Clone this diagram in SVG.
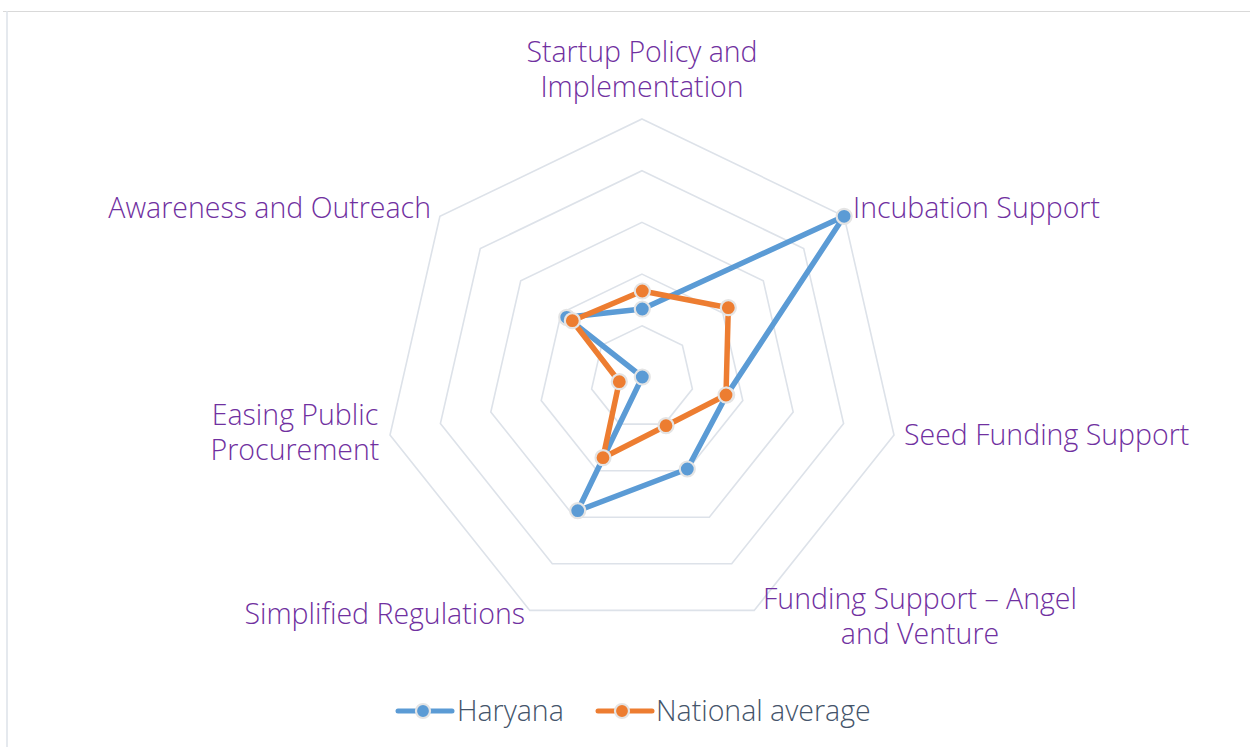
<svg xmlns="http://www.w3.org/2000/svg" width="1250" height="747" viewBox="0 0 1250 747">
  <style>
    .grid { fill: none; stroke: #dde2e9; stroke-width: 1.6; }
    .lbl { font-family: "Open Sans", "Liberation Sans", sans-serif; font-weight: 300; font-size: 28.5px; fill: #7030a0; }
    .leg { font-family: "Open Sans", "Liberation Sans", sans-serif; font-weight: 300; font-size: 28.5px; fill: #44546a; }
    .ser-h { fill: none; stroke: #5b9bd5; stroke-width: 5.5; stroke-linejoin: round; }
    .ser-n { fill: none; stroke: #ed7d31; stroke-width: 5.5; stroke-linejoin: round; }
    .mk-h { fill: #5b9bd5; stroke: #e4e4e4; stroke-width: 2.2; }
    .mk-n { fill: #ed7d31; stroke: #e4e4e4; stroke-width: 2.2; }
  </style>
  <rect x="0" y="0" width="1250" height="747" fill="#ffffff"/>
  <g id="frame">
    <line x1="3" y1="11.5" x2="1250" y2="11.5" stroke="#d9d9d9" stroke-width="1.2"/>
    <line x1="7" y1="11" x2="7" y2="747" stroke="#dfe4ea" stroke-width="1.6"/>
  </g>
  <g id="grid">
    <polygon class="grid" points="642,119 844.1,216.3 894,435 754.2,610.4 529.8,610.4 390,435 439.9,216.3"/>
    <polygon class="grid" points="642,170.7 803.7,248.6 843.6,423.5 731.7,563.8 552.3,563.8 440.4,423.5 480.3,248.6"/>
    <polygon class="grid" points="642,222.4 763.3,280.8 793.2,412 709.3,517.2 574.7,517.2 490.8,412 520.7,280.8"/>
    <polygon class="grid" points="642,274.1 722.8,313 742.8,400.5 686.9,470.7 597.1,470.7 541.2,400.5 561.2,313"/>
    <polygon class="grid" points="642,325.8 682.4,345.3 692.4,389 664.4,424.1 619.6,424.1 591.6,389 601.6,345.3"/>
  </g>
  <g id="axis-labels">
    <g id="label-startup"><text class="lbl" x="642" y="62" text-anchor="middle">Startup Policy and</text><text class="lbl" x="642" y="97" text-anchor="middle">Implementation</text></g>
    <g id="label-incubation"><text class="lbl" x="853" y="218">Incubation Support</text></g>
    <g id="label-seed"><text class="lbl" x="904" y="445">Seed Funding Support</text></g>
    <g id="label-angel"><text class="lbl" x="920" y="609" text-anchor="middle">Funding Support – Angel</text><text class="lbl" x="920" y="644" text-anchor="middle">and Venture</text></g>
    <g id="label-regulations"><text class="lbl" x="525" y="624" text-anchor="end">Simplified Regulations</text></g>
    <g id="label-procurement"><text class="lbl" x="295" y="425" text-anchor="middle">Easing Public</text><text class="lbl" x="295" y="460" text-anchor="middle">Procurement</text></g>
    <g id="label-awareness"><text class="lbl" x="431" y="218" text-anchor="end">Awareness and Outreach</text></g>
  </g>
  <g id="connectors">
    <polygon id="series-haryana" class="ser-h" points="642.3,309 844.1,216.3 726.7,395 687.3,469 577.7,510.7 642.3,377 566.7,317.3"/>
    <polygon id="series-national" class="ser-n" points="642.3,291 728.3,307.7 726,395 666,425.7 603,457.7 619.3,381.7 572.3,320.7"/>
  </g>
  <g id="markers-haryana">
    <circle class="mk-h" cx="642.3" cy="309" r="7.5"/>
    <circle class="mk-h" cx="844.1" cy="216.3" r="7.5"/>
    <circle class="mk-h" cx="726.7" cy="395" r="7.5"/>
    <circle class="mk-h" cx="687.3" cy="469" r="7.5"/>
    <circle class="mk-h" cx="577.7" cy="510.7" r="7.5"/>
    <circle class="mk-h" cx="642.3" cy="377" r="7.5"/>
    <circle class="mk-h" cx="566.7" cy="317.3" r="7.5"/>
  </g>
  <g id="markers-national">
    <circle class="mk-n" cx="642.3" cy="291" r="7.5"/>
    <circle class="mk-n" cx="728.3" cy="307.7" r="7.5"/>
    <circle class="mk-n" cx="726" cy="395" r="7.5"/>
    <circle class="mk-n" cx="666" cy="425.7" r="7.5"/>
    <circle class="mk-n" cx="603" cy="457.7" r="7.5"/>
    <circle class="mk-n" cx="619.3" cy="381.7" r="7.5"/>
    <circle class="mk-n" cx="572.3" cy="320.7" r="7.5"/>
  </g>
  <g id="legend">
    <g id="legend-haryana">
      <line x1="398" y1="711" x2="452" y2="711" stroke="#5b9bd5" stroke-width="5" stroke-linecap="round"/>
      <circle class="mk-h" cx="423" cy="711" r="7"/>
      <text class="leg" x="457" y="721">Haryana</text>
    </g>
    <g id="legend-national">
      <line x1="598" y1="711" x2="652" y2="711" stroke="#ed7d31" stroke-width="5" stroke-linecap="round"/>
      <circle class="mk-n" cx="622" cy="711" r="7"/>
      <text class="leg" x="656" y="721">National average</text>
    </g>
  </g>
</svg>
